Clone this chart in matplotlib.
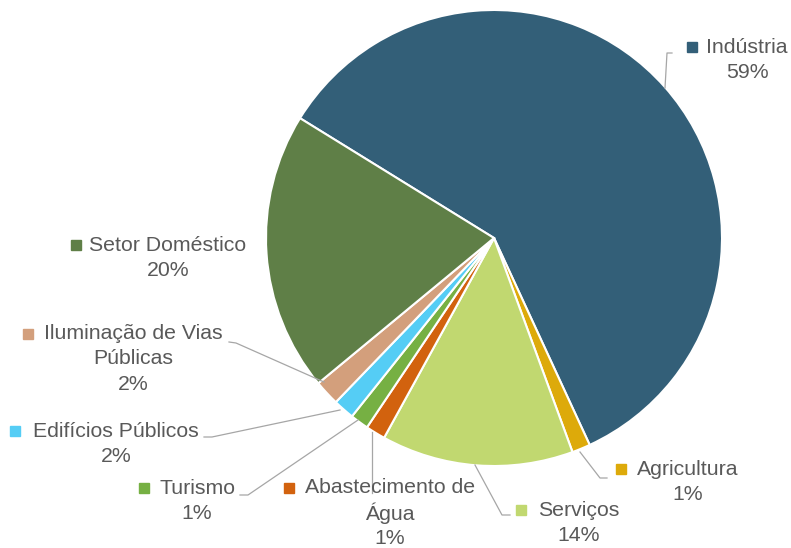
import matplotlib
matplotlib.use("Agg")
import matplotlib.pyplot as plt

setores = ["Indústria", "Agricultura", "Serviços", "Abastecimento de\nÁgua", "Turismo",
           "Edifícios Públicos", "Iluminação de Vias\nPúblicas", "Setor Doméstico"]
valores = [59.3, 1.3, 13.6, 1.4, 1.3, 1.5, 1.8, 19.8]
percentuais = ["59%", "1%", "14%", "1%", "1%", "2%", "2%", "20%"]
cores = ["#335f78", "#ddaa0a", "#c1d870", "#d2620e", "#76b043",
         "#55cdf5", "#d39f7c", "#5f7f47"]

W, H = 791, 548
cx, cy, r = 494, 238, 228

fig = plt.figure(figsize=(W / 100, H / 100), dpi=100)
ax = fig.add_axes([(cx - r) / W, (H - cy - r) / H, 2 * r / W, 2 * r / H])

ax.pie(valores, colors=cores, startangle=148.3, counterclock=False, radius=1,
       wedgeprops=dict(edgecolor="white", linewidth=1.5))
ax.set_xlim(-1, 1)
ax.set_ylim(-1, 1)
ax.set_aspect("equal")
ax.axis("off")


def px(x, y):
    # pixel -> data
    return (x - cx) / r, (cy - y) / r


# label positions (center of text block, pixel coords) and legend-marker x
rotulos = [
    ((747, 60), 692),   # Indústria
    ((688, 482), 621),  # Agricultura
    ((579, 523), 521),  # Serviços
    ((390, 513), 289),  # Abastecimento
    ((197, 501), 144),  # Turismo
    ((116, 444), 15),   # Edifícios
    ((133, 359), 28),   # Iluminação
    ((168, 258), 76),   # Setor Doméstico
]

cinza = "#595959"
for nome, pct, cor, ((tx, ty), mx) in zip(setores, percentuais, cores, rotulos):
    linhas = nome.split("\n") + [pct]
    n = len(linhas)
    lh = 25.5
    top = ty - (n - 1) * lh / 2
    for i, ln in enumerate(linhas):
        x, y = px(tx, top + i * lh)
        ax.text(x, y, ln, ha="center", va="center", fontsize=15.3, color=cinza,
                family="Liberation Sans", clip_on=False)
    x, y = px(mx, top)
    ax.plot([x], [y], marker="s", ms=6.5, color=cor, clip_on=False, lw=0)

# leader lines
guias = [
    [(665, 88), (667, 53), (672, 53)],
    [(580, 452), (600, 478), (607, 478)],
    [(475, 465), (502, 515), (510, 515)],
    [(372, 432), (372, 493)],
    [(358, 420), (248, 495), (240, 495)],
    [(340, 410), (212, 437), (204, 437)],
    [(324, 382), (236, 343), (229, 342)],
]
for g in guias:
    pts = [px(*p) for p in g]
    ax.plot([p[0] for p in pts], [p[1] for p in pts], color="#a6a6a6", lw=0.9,
            clip_on=False)

fig.savefig("out.png", dpi=100)
